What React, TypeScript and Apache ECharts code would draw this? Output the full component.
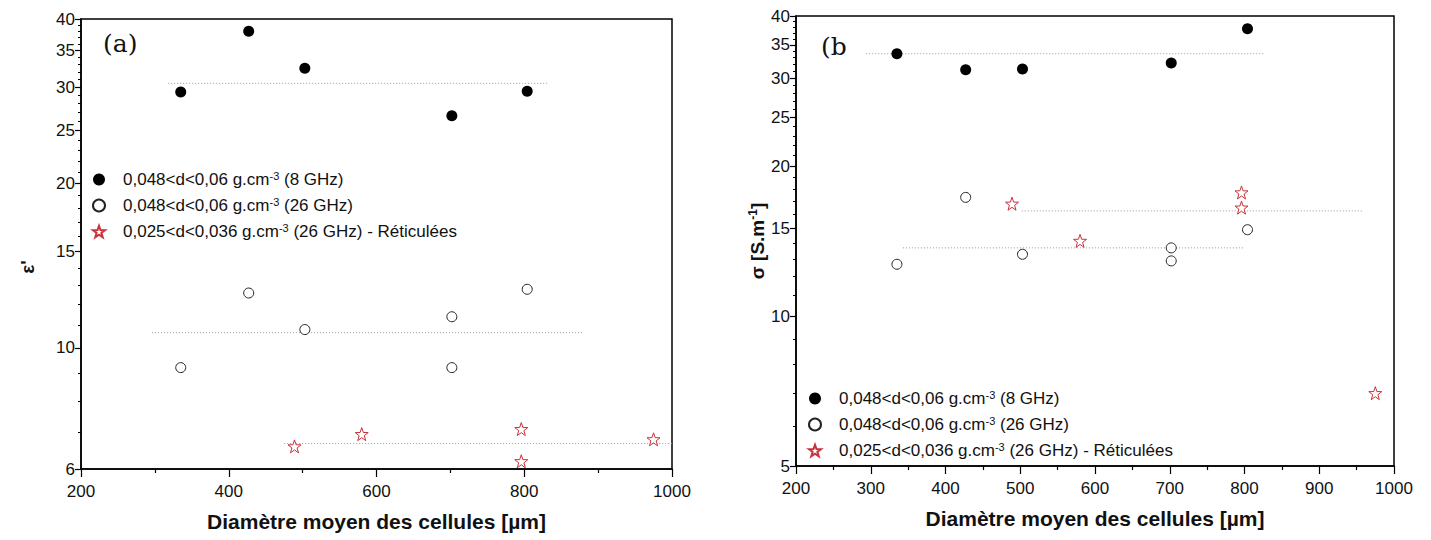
import React, { useEffect, useRef } from "react";
import * as echarts from "echarts";

// ---- data ----
const diam8 = [335, 427, 503, 702, 804];
const diam26 = [335, 427, 503, 702, 702, 804];
const diamRet = [489, 580, 796, 796, 975];

const epsFilled = [29.4, 38.0, 32.5, 26.6, 29.5];
const epsOpen = [9.2, 12.6, 10.8, 11.4, 9.2, 12.8];
const epsStar = [6.6, 6.95, 7.1, 6.2, 6.8];

const sigFilled = [33.6, 31.2, 31.3, 32.2, 37.7];
const sigOpen = [12.7, 17.3, 13.3, 13.7, 12.9, 14.9];
const sigStar = [16.8, 14.15, 17.7, 16.5, 7.0];

// mean (dotted) lines: x extent and level
const epsMean8X = [318, 832];
const epsMean8 = 30.5;
const epsMean26X = [296, 880];
const epsMean26 = 10.66;
const epsMeanRetX = [475, 1000];
const epsMeanRet = 6.68;

const sigMean8X = [294, 827];
const sigMean8 = 33.6;
const sigMean26X = [343, 800];
const sigMean26 = 13.7;
const sigMeanRetX = [502, 957];
const sigMeanRet = 16.25;

const epsTicks = [6, 10, 15, 20, 25, 30, 35, 40];
const epsMinor = [7, 8, 9, 11, 12, 13, 14, 16, 17, 18, 19, 21, 22, 23, 24, 26, 27, 28, 29, 31, 32, 33, 34, 36, 37, 38, 39];
const sigTicks = [5, 10, 15, 20, 25, 30, 35, 40];
const sigMinor = [6, 7, 8, 9, 11, 12, 13, 14, 16, 17, 18, 19, 21, 22, 23, 24, 26, 27, 28, 29, 31, 32, 33, 34, 36, 37, 38, 39];

const NAME8 = "0,048<d<0,06 g.cm-3 (8 GHz)";
const NAME26 = "0,048<d<0,06 g.cm-3 (26 GHz)";
const NAMERET = "0,025<d<0,036 g.cm-3 (26 GHz) - Réticulées";
const legendRich: Record<string, string> = {
  [NAME8]: "{a|0,048<d<0,06 g.cm}{s|-3}{a| (8 GHz)}",
  [NAME26]: "{a|0,048<d<0,06 g.cm}{s|-3}{a| (26 GHz)}",
  [NAMERET]: "{a|0,025<d<0,036 g.cm}{s|-3}{a| (26 GHz) - Réticulées}",
};

const STAR =
  "path://M0,-10 L2.35,-3.24 L9.51,-3.09 L3.8,1.24 L5.88,8.09 L0,4 L-5.88,8.09 L-3.8,1.24 L-9.51,-3.09 L-2.35,-3.24 Z";

const FONT = "Liberation Sans, Arial, sans-serif";
const TXT = "#111";

function zip(xs: number[], ys: number[]) {
  return xs.map((x, i) => [x, ys[i]]);
}

function scatterSeries(grid: number, xs: number[], ys: number[], kind: string) {
  const base: any = {
    type: "scatter",
    xAxisIndex: grid,
    yAxisIndex: grid * 2,
    data: zip(xs, ys),
    z: 5,
  };
  if (kind === "filled") {
    return { ...base, name: NAME8, symbol: "circle", symbolSize: 11, itemStyle: { color: "#000", opacity: 1 } };
  }
  if (kind === "open") {
    return {
      ...base,
      name: NAME26,
      symbol: "circle",
      symbolSize: 10,
      itemStyle: { color: "#fff", borderColor: "#222", borderWidth: 1, opacity: 1 },
    };
  }
  return {
    ...base,
    name: NAMERET,
    symbol: STAR,
    symbolSize: 13,
    itemStyle: { color: "#fff", borderColor: "#c8323a", borderWidth: 1, opacity: 1 },
  };
}

function meanLine(grid: number, xs: number[], level: number) {
  return {
    type: "line",
    xAxisIndex: grid,
    yAxisIndex: grid * 2,
    data: xs.map((x) => [x, level]),
    symbol: "none",
    silent: true,
    lineStyle: { color: "#9a9a9a", width: 1, type: [1, 2] },
    z: 2,
  };
}

function yAxes(
  grid: number,
  min: number,
  max: number,
  ticks: number[],
  minor: number[],
  name: any,
  nameGap: number,
  namePad: number[]
) {
  return [
    {
      type: "log",
      logBase: 10,
      gridIndex: grid,
      position: "left",
      min,
      max,
      axisLine: { show: true, lineStyle: { color: "#000", width: 1.5 } },
      axisTick: { show: true, customValues: ticks, length: 6, lineStyle: { color: "#000", width: 1.2 } },
      axisLabel: {
        customValues: ticks,
        formatter: (v: number) => String(Math.round(v)),
        fontSize: 17,
        fontFamily: FONT,
        color: TXT,
        margin: 6,
      },
      splitLine: { show: false },
      name,
      nameLocation: "middle",
      nameRotate: 90,
      nameGap,
      nameTextStyle: {
        fontSize: 19,
        fontWeight: "bold",
        fontFamily: FONT,
        color: TXT,
        padding: namePad,
        rich: {
          n: { fontSize: 19, fontWeight: "bold", fontFamily: FONT, color: TXT, lineHeight: 22 },
          s: { fontSize: 12, fontWeight: "bold", fontFamily: FONT, color: TXT, lineHeight: 12, verticalAlign: "top" },
        },
      },
    },
    {
      type: "log",
      logBase: 10,
      gridIndex: grid,
      position: "left",
      offset: 0,
      min,
      max,
      axisLine: { show: false },
      axisTick: { show: true, customValues: minor, length: 3, lineStyle: { color: "#000", width: 1 } },
      axisLabel: { show: false },
      splitLine: { show: false },
    },
  ];
}

function xAxis(grid: number, interval: number, minorSplit: number) {
  return {
    type: "value",
    gridIndex: grid,
    min: 200,
    max: 1000,
    interval,
    axisLine: { show: true, onZero: false, lineStyle: { color: "#000", width: 1.5 } },
    axisTick: { show: true, length: 8, lineStyle: { color: "#000", width: 1.2 } },
    minorTick: { show: true, splitNumber: minorSplit, length: 4, lineStyle: { color: "#000", width: 1.2 } },
    axisLabel: { fontSize: 17, fontFamily: FONT, color: TXT, margin: 14, formatter: (v: number) => String(v) },
    splitLine: { show: false },
    minorSplitLine: { show: false },
    name: "Diamètre moyen des cellules [µm]",
    nameLocation: "middle",
    nameGap: 42,
    nameTextStyle: { fontSize: 21, fontWeight: "bold", fontFamily: FONT, color: TXT },
  };
}

function legend(left: number, top: number) {
  return {
    orient: "vertical",
    left,
    top,
    itemWidth: 12,
    itemHeight: 12,
    itemGap: 8,
    selectedMode: false,
    data: [NAME8, NAME26, NAMERET],
    formatter: (n: string) => "{sp|}" + legendRich[n],
    textStyle: {
      fontSize: 17,
      fontFamily: FONT,
      color: TXT,
      rich: {
        sp: { width: 13 },
        a: { fontSize: 17, fontFamily: FONT, color: TXT, lineHeight: 19 },
        s: { fontSize: 11, fontFamily: FONT, color: TXT, lineHeight: 11, verticalAlign: "top" },
      },
    },
  };
}

export default function App() {
  const ref = useRef<HTMLDivElement>(null);
  useEffect(() => {
    if (!ref.current) return;
    const chart = echarts.init(ref.current, undefined, { renderer: "svg" });
    const option: any = {
      animation: false,
      backgroundColor: "#fff",
      grid: [
        { left: 81, top: 19, width: 591, height: 450, show: true, borderColor: "#000", borderWidth: 1.5, backgroundColor: "transparent" },
        { left: 796, top: 16, width: 598, height: 450, show: true, borderColor: "#000", borderWidth: 1.5, backgroundColor: "transparent" },
      ],
      xAxis: [xAxis(0, 200, 2), xAxis(1, 100, 2)],
      yAxis: [
        ...yAxes(0, 6, 40, epsTicks, epsMinor, "{n|ε'}", 43, [0, 46, 0, 0]),
        ...yAxes(1, 5, 40, sigTicks, sigMinor, "{n|σ [S.m}{s|-1}{n|]}", 26, [0, 0, 0, 0]),
      ],
      legend: [legend(87, 165), legend(803, 384)],
      graphic: [
        { type: "text", left: 103, top: 31, style: { text: "(a)", fontSize: 25, fontFamily: "DejaVu Serif, serif", fill: "#111" } },
        { type: "text", left: 821, top: 34, style: { text: "(b", fontSize: 25, fontFamily: "DejaVu Serif, serif", fill: "#111" } },
      ],
      series: [
        scatterSeries(0, diam8, epsFilled, "filled"),
        scatterSeries(0, diam26, epsOpen, "open"),
        scatterSeries(0, diamRet, epsStar, "star"),
        meanLine(0, epsMean8X, epsMean8),
        meanLine(0, epsMean26X, epsMean26),
        meanLine(0, epsMeanRetX, epsMeanRet),
        scatterSeries(1, diam8, sigFilled, "filled"),
        scatterSeries(1, diam26, sigOpen, "open"),
        scatterSeries(1, diamRet, sigStar, "star"),
        meanLine(1, sigMean8X, sigMean8),
        meanLine(1, sigMean26X, sigMean26),
        meanLine(1, sigMeanRetX, sigMeanRet),
      ],
    };
    chart.setOption(option);
    return () => chart.dispose();
  }, []);
  return <div ref={ref} style={{ position: "fixed", left: 0, top: 0, width: 1431, height: 540 }} />;
}
